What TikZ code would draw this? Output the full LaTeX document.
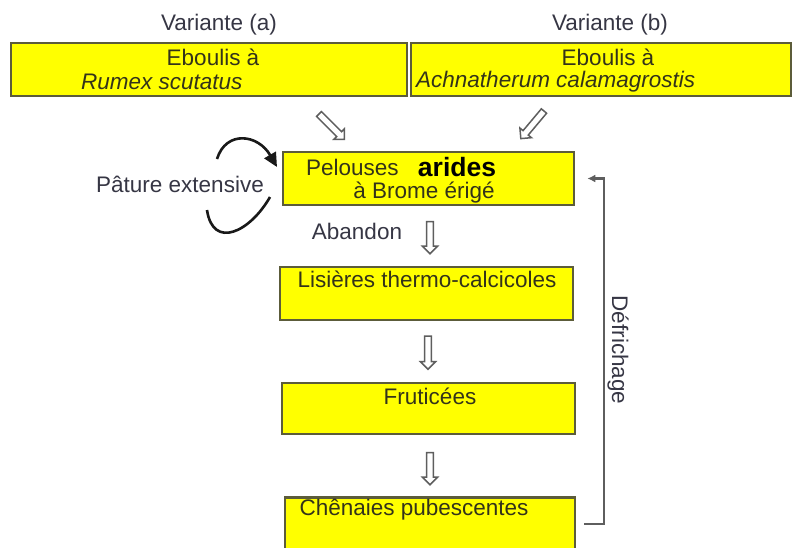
\documentclass[tikz,border=0pt]{standalone}
\usepackage{fontspec}
\setmainfont{Liberation Sans}
\usetikzlibrary{shapes.arrows,arrows.meta}
\definecolor{boxyellow}{HTML}{FFFF00}
\definecolor{boxline}{HTML}{5C5C3A}
\definecolor{boxtext}{HTML}{33331A}
\definecolor{labtext}{HTML}{363644}
\definecolor{arrgray}{HTML}{5E5E5E}
\tikzset{
  box/.style={draw=boxline, line width=2.6pt, fill=boxyellow, inner sep=0pt},
  btext/.style={text=boxtext, font=\fontsize{22.5}{25}\selectfont, inner sep=0pt},
  ltext/.style={text=labtext, font=\fontsize{22.5}{25}\selectfont, inner sep=0pt},
  hollow/.style={single arrow, draw=arrgray, line width=1.5pt, fill=white,
    inner sep=2.6pt, single arrow head extend=4pt, minimum width=15pt},
  curv/.style={draw=black!90, line width=2.6pt},
  defr/.style={draw=arrgray, line width=2.2pt, -{Latex[length=8pt,width=8pt]}}
}
\begin{document}
\begin{tikzpicture}[x=1pt,y=-1pt]
\clip (0,0) rectangle (794,547);
\fill[white] (0,0) rectangle (794,547);

% labels above
\node[ltext] (va) at (219,25) {Variante (a)};
\node[ltext] (vb) at (610,25) {Variante (b)};

% top boxes
\node[box, minimum width=396pt, minimum height=53pt] (ebA) at (209,69.5) {};
\node[box, minimum width=380pt, minimum height=53pt] (ebB) at (601,69.5) {};
\node[btext] (ebAt1) at (213,57) {Eboulis à};
\node[btext, anchor=west] (ebAt2) at (81,82) {\itshape Rumex scutatus};
\node[btext] (ebBt1) at (608,57) {Eboulis à};
\node[btext, anchor=west] (ebBt2) at (416,82) {\itshape Achnatherum calamagrostis};

% main boxes
\node[box, minimum width=291pt, minimum height=53pt] (pel) at (428.5,178.5) {};
\node[box, minimum width=293pt, minimum height=53pt] (lis) at (426.5,293.5) {};
\node[box, minimum width=293pt, minimum height=51pt] (fru) at (428.5,408.5) {};
\node[box, minimum width=290pt, minimum height=53pt] (che) at (430,524) {};

\node[btext, anchor=base west] (pelt1) at (306,175) {Pelouses};
\node[fill=boxyellow, inner sep=0pt, minimum width=150pt, minimum height=26pt, anchor=north west] (patch) at (405,153.5) {};
\node[text=black, font=\fontsize{26.5}{29}\selectfont\bfseries, inner sep=0pt, anchor=base] (arides) at (457,176) {arides};
\node[btext, anchor=base] (pelt2) at (424,198) {à Brome érigé};
\node[btext] (list) at (427,279) {Lisières thermo-calcicoles};
\node[btext] (frut) at (430,396) {Fruticées};
\node[btext] (chet) at (414,510) {Chênaies pubescentes};

% hollow arrows
\node[hollow, minimum height=36pt, rotate=-45] (ha) at (330.5,125.5) {};
\node[hollow, minimum height=36pt, rotate=-130] (hb) at (533.5,123.5) {};
\node[hollow, minimum height=32pt, rotate=-90] (h1) at (430,236) {};
\node[hollow, minimum height=33pt, rotate=-90] (h2) at (428,351) {};
\node[hollow, minimum height=32pt, rotate=-90] (h3) at (430,467) {};

% labels
\node[ltext] (ab) at (357,231) {Abandon};
\node[ltext] (pat) at (180,184) {Pâture extensive};
\node[ltext, rotate=-90] (dfr) at (618,350) {Défrichage};

% Défrichage connector
\draw[defr] ([xshift=8pt]che.east) -| ([xshift=29pt]pel.east) -- ([xshift=12pt]pel.east);

% pâture loop
\coordinate (ptA) at (217,159);
\coordinate (ptB) at (277,167);
\coordinate (pbA) at (270,197);
\coordinate (pbB) at (207,210);
\draw[curv, -{Triangle[length=14pt,width=13pt]}] (ptA) .. controls (226,130) and (258,134) .. (ptB);
\draw[curv] (pbA) .. controls (250,232) and (213,250) .. (pbB);
\end{tikzpicture}
\end{document}
